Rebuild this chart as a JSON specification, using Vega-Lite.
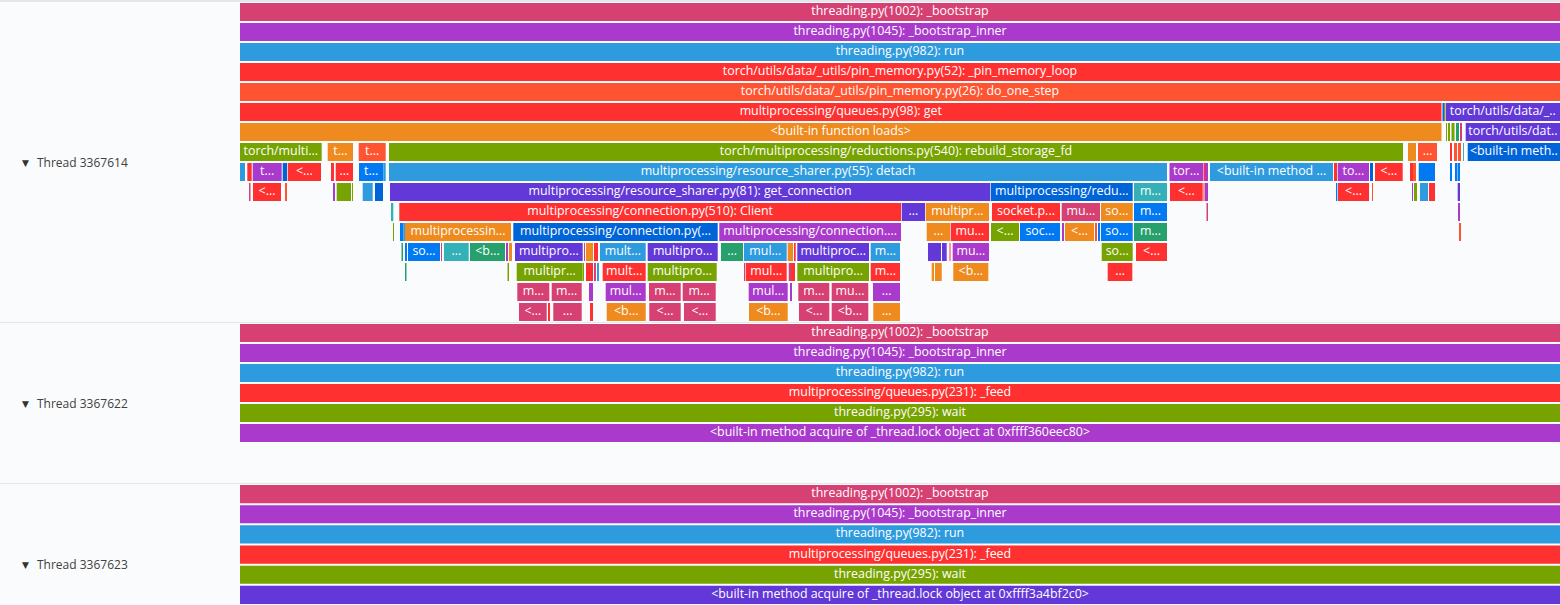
{
  "$schema": "https://vega.github.io/schema/vega-lite/v6.json",
  "background": "#e3e6ea",
  "padding": {"top": 2, "bottom": 0, "left": 0, "right": 0},
  "spacing": 1,
  "config": {
    "view": {"fill": "#f9fbfd", "stroke": null},
    "text": {"font": "Open Sans"}
  },
  "datasets": {
    "threads": [
      {"t": 1, "name": "Thread 3367614"},
      {"t": 2, "name": "Thread 3367622"},
      {"t": 3, "name": "Thread 3367623"}
    ],
    "frames": [
      {"t": 1, "d": 0, "s": 0, "e": 1320, "n": "threading.py(1002): _bootstrap", "g": 0},
      {"t": 1, "d": 1, "s": 0, "e": 1320, "n": "threading.py(1045): _bootstrap_inner", "g": 1},
      {"t": 1, "d": 2, "s": 0, "e": 1320, "n": "threading.py(982): run", "g": 2},
      {"t": 1, "d": 3, "s": 0, "e": 1320, "n": "torch/utils/data/_utils/pin_memory.py(52): _pin_memory_loop", "g": 3},
      {"t": 1, "d": 4, "s": 0, "e": 1320, "n": "torch/utils/data/_utils/pin_memory.py(26): do_one_step", "g": 4},

      {"t": 1, "d": 5, "s": 0, "e": 1201.5, "n": "multiprocessing/queues.py(98): get", "g": 3},
      {"t": 1, "d": 5, "s": 1202.5, "e": 1204, "n": "", "g": 8},
      {"t": 1, "d": 5, "s": 1204, "e": 1205, "n": "", "g": 6},
      {"t": 1, "d": 5, "s": 1205.6, "e": 1320, "n": "torch/utils/data/_..", "g": 7},

      {"t": 1, "d": 6, "s": 0, "e": 1201.5, "n": "<built-in function loads>", "g": 5},
      {"t": 1, "d": 6, "s": 1206, "e": 1207, "n": "", "g": 6},
      {"t": 1, "d": 6, "s": 1208, "e": 1210, "n": "", "g": 6},
      {"t": 1, "d": 6, "s": 1211.5, "e": 1214.5, "n": "", "g": 6},
      {"t": 1, "d": 6, "s": 1216, "e": 1219, "n": "", "g": 11},
      {"t": 1, "d": 6, "s": 1220, "e": 1222, "n": "", "g": 0},
      {"t": 1, "d": 6, "s": 1225.7, "e": 1320, "n": "torch/utils/dat..", "g": 7},

      {"t": 1, "d": 7, "s": 0, "e": 81.7, "n": "torch/multi...", "g": 6},
      {"t": 1, "d": 7, "s": 87.7, "e": 113, "n": "t...", "g": 5},
      {"t": 1, "d": 7, "s": 118.7, "e": 145.7, "n": "t...", "g": 4},
      {"t": 1, "d": 7, "s": 149, "e": 1163, "n": "torch/multiprocessing/reductions.py(540): rebuild_storage_fd", "g": 6},
      {"t": 1, "d": 7, "s": 1168, "e": 1176, "n": "", "g": 5},
      {"t": 1, "d": 7, "s": 1178, "e": 1197, "n": "...", "g": 4},
      {"t": 1, "d": 7, "s": 1210, "e": 1212, "n": "", "g": 3},
      {"t": 1, "d": 7, "s": 1214, "e": 1217, "n": "", "g": 4},
      {"t": 1, "d": 7, "s": 1218, "e": 1221, "n": "", "g": 4},
      {"t": 1, "d": 7, "s": 1223, "e": 1224, "n": "", "g": 10},
      {"t": 1, "d": 7, "s": 1227.7, "e": 1320, "n": "<built-in meth..", "g": 8},

      {"t": 1, "d": 8, "s": 0, "e": 5, "n": "", "g": 2},
      {"t": 1, "d": 8, "s": 7.3, "e": 11.7, "n": "", "g": 3},
      {"t": 1, "d": 8, "s": 12.7, "e": 41.7, "n": "t...", "g": 1},
      {"t": 1, "d": 8, "s": 42.7, "e": 47, "n": "", "g": 8},
      {"t": 1, "d": 8, "s": 47.7, "e": 81, "n": "<...", "g": 3},
      {"t": 1, "d": 8, "s": 91, "e": 94, "n": "", "g": 3},
      {"t": 1, "d": 8, "s": 95.7, "e": 113, "n": "...", "g": 3},
      {"t": 1, "d": 8, "s": 119, "e": 143.3, "n": "t...", "g": 9},
      {"t": 1, "d": 8, "s": 143.3, "e": 145.7, "n": "", "g": 2},
      {"t": 1, "d": 8, "s": 149, "e": 927, "n": "multiprocessing/resource_sharer.py(55): detach", "g": 2},
      {"t": 1, "d": 8, "s": 929.5, "e": 963, "n": "tor...", "g": 1},
      {"t": 1, "d": 8, "s": 963.5, "e": 965, "n": "", "g": 3},
      {"t": 1, "d": 8, "s": 965, "e": 968, "n": "", "g": 1},
      {"t": 1, "d": 8, "s": 970, "e": 1093, "n": "<built-in method ...", "g": 2},
      {"t": 1, "d": 8, "s": 1094, "e": 1097, "n": "", "g": 3},
      {"t": 1, "d": 8, "s": 1097.7, "e": 1129, "n": "to...", "g": 1},
      {"t": 1, "d": 8, "s": 1130, "e": 1133, "n": "", "g": 8},
      {"t": 1, "d": 8, "s": 1135, "e": 1162.7, "n": "<...", "g": 3},
      {"t": 1, "d": 8, "s": 1170, "e": 1173, "n": "", "g": 3},
      {"t": 1, "d": 8, "s": 1173, "e": 1176, "n": "", "g": 4},
      {"t": 1, "d": 8, "s": 1178.7, "e": 1195, "n": "", "g": 9},
      {"t": 1, "d": 8, "s": 1210, "e": 1212, "n": "", "g": 9},
      {"t": 1, "d": 8, "s": 1215, "e": 1217, "n": "", "g": 9},
      {"t": 1, "d": 8, "s": 1217.5, "e": 1220, "n": "", "g": 9},

      {"t": 1, "d": 9, "s": 9, "e": 10.5, "n": "", "g": 0},
      {"t": 1, "d": 9, "s": 13, "e": 41, "n": "<...", "g": 3},
      {"t": 1, "d": 9, "s": 45, "e": 47, "n": "", "g": 4},
      {"t": 1, "d": 9, "s": 93, "e": 95, "n": "", "g": 1},
      {"t": 1, "d": 9, "s": 96.7, "e": 111, "n": "", "g": 6},
      {"t": 1, "d": 9, "s": 112, "e": 113, "n": "", "g": 6},
      {"t": 1, "d": 9, "s": 122.7, "e": 132.7, "n": "", "g": 2},
      {"t": 1, "d": 9, "s": 135, "e": 143, "n": "", "g": 8},
      {"t": 1, "d": 9, "s": 150, "e": 750, "n": "multiprocessing/resource_sharer.py(81): get_connection", "g": 7},
      {"t": 1, "d": 9, "s": 750.7, "e": 892.7, "n": "multiprocessing/redu...", "g": 8},
      {"t": 1, "d": 9, "s": 894, "e": 927, "n": "m...", "g": 10},
      {"t": 1, "d": 9, "s": 930, "e": 962.7, "n": "<...", "g": 3},
      {"t": 1, "d": 9, "s": 963.5, "e": 964.5, "n": "", "g": 3},
      {"t": 1, "d": 9, "s": 965, "e": 968, "n": "", "g": 1},
      {"t": 1, "d": 9, "s": 1096, "e": 1097.3, "n": "", "g": 9},
      {"t": 1, "d": 9, "s": 1098, "e": 1129, "n": "<...", "g": 3},
      {"t": 1, "d": 9, "s": 1132, "e": 1133, "n": "", "g": 4},
      {"t": 1, "d": 9, "s": 1172, "e": 1173, "n": "", "g": 1},
      {"t": 1, "d": 9, "s": 1174, "e": 1177, "n": "", "g": 6},
      {"t": 1, "d": 9, "s": 1180, "e": 1188, "n": "", "g": 2},
      {"t": 1, "d": 9, "s": 1189, "e": 1195, "n": "", "g": 3},
      {"t": 1, "d": 9, "s": 1217.7, "e": 1220, "n": "", "g": 7},

      {"t": 1, "d": 10, "s": 151, "e": 153.3, "n": "", "g": 10},
      {"t": 1, "d": 10, "s": 159.3, "e": 661, "n": "multiprocessing/connection.py(510): Client", "g": 3},
      {"t": 1, "d": 10, "s": 661.7, "e": 685, "n": "...", "g": 7},
      {"t": 1, "d": 10, "s": 685.7, "e": 749, "n": "multipr...", "g": 5},
      {"t": 1, "d": 10, "s": 752, "e": 820, "n": "socket.p...", "g": 3},
      {"t": 1, "d": 10, "s": 821.7, "e": 860, "n": "mu...", "g": 0},
      {"t": 1, "d": 10, "s": 861, "e": 892.7, "n": "so...", "g": 5},
      {"t": 1, "d": 10, "s": 894, "e": 927, "n": "m...", "g": 9},
      {"t": 1, "d": 10, "s": 966.5, "e": 968, "n": "", "g": 0},
      {"t": 1, "d": 10, "s": 1218, "e": 1220, "n": "", "g": 1},

      {"t": 1, "d": 11, "s": 153, "e": 154, "n": "", "g": 6},
      {"t": 1, "d": 11, "s": 160, "e": 163.3, "n": "", "g": 9},
      {"t": 1, "d": 11, "s": 163.3, "e": 165, "n": "", "g": 2},
      {"t": 1, "d": 11, "s": 165, "e": 271, "n": "multiprocessin...", "g": 5},
      {"t": 1, "d": 11, "s": 273.3, "e": 477.7, "n": "multiprocessing/connection.py(...", "g": 8},
      {"t": 1, "d": 11, "s": 479.3, "e": 661, "n": "multiprocessing/connection....", "g": 1},
      {"t": 1, "d": 11, "s": 686.7, "e": 710, "n": "...", "g": 5},
      {"t": 1, "d": 11, "s": 710.7, "e": 749, "n": "mu...", "g": 3},
      {"t": 1, "d": 11, "s": 751, "e": 779, "n": "<...", "g": 6},
      {"t": 1, "d": 11, "s": 780, "e": 820, "n": "soc...", "g": 9},
      {"t": 1, "d": 11, "s": 822, "e": 824, "n": "", "g": 1},
      {"t": 1, "d": 11, "s": 825, "e": 854, "n": "<...", "g": 5},
      {"t": 1, "d": 11, "s": 855, "e": 857, "n": "", "g": 4},
      {"t": 1, "d": 11, "s": 858, "e": 860, "n": "", "g": 9},
      {"t": 1, "d": 11, "s": 861, "e": 892.7, "n": "so...", "g": 9},
      {"t": 1, "d": 11, "s": 894, "e": 927, "n": "m...", "g": 11},
      {"t": 1, "d": 11, "s": 1219, "e": 1221, "n": "", "g": 4},

      {"t": 1, "d": 12, "s": 161.5, "e": 163, "n": "", "g": 11},
      {"t": 1, "d": 12, "s": 165, "e": 167, "n": "", "g": 9},
      {"t": 1, "d": 12, "s": 168, "e": 200, "n": "so...", "g": 9},
      {"t": 1, "d": 12, "s": 201, "e": 202, "n": "", "g": 0},
      {"t": 1, "d": 12, "s": 204, "e": 228.7, "n": "...", "g": 10},
      {"t": 1, "d": 12, "s": 230, "e": 265, "n": "<b...", "g": 11},
      {"t": 1, "d": 12, "s": 266, "e": 268, "n": "", "g": 1},
      {"t": 1, "d": 12, "s": 269, "e": 272, "n": "", "g": 5},
      {"t": 1, "d": 12, "s": 275, "e": 342.7, "n": "multipro...", "g": 7},
      {"t": 1, "d": 12, "s": 344, "e": 345, "n": "", "g": 0},
      {"t": 1, "d": 12, "s": 346, "e": 353, "n": "", "g": 5},
      {"t": 1, "d": 12, "s": 354, "e": 358, "n": "", "g": 3},
      {"t": 1, "d": 12, "s": 360, "e": 405.7, "n": "mult...", "g": 2},
      {"t": 1, "d": 12, "s": 407.7, "e": 477.7, "n": "multipro...", "g": 7},
      {"t": 1, "d": 12, "s": 481, "e": 503, "n": "...", "g": 11},
      {"t": 1, "d": 12, "s": 504, "e": 546.7, "n": "mul...", "g": 2},
      {"t": 1, "d": 12, "s": 547.7, "e": 553, "n": "", "g": 5},
      {"t": 1, "d": 12, "s": 554, "e": 555.7, "n": "", "g": 3},
      {"t": 1, "d": 12, "s": 557.3, "e": 629, "n": "multiproc...", "g": 7},
      {"t": 1, "d": 12, "s": 630.7, "e": 660, "n": "m...", "g": 2},
      {"t": 1, "d": 12, "s": 688, "e": 701, "n": "", "g": 7},
      {"t": 1, "d": 12, "s": 702, "e": 706.7, "n": "", "g": 7},
      {"t": 1, "d": 12, "s": 709.5, "e": 710.5, "n": "", "g": 3},
      {"t": 1, "d": 12, "s": 712.7, "e": 749, "n": "mu...", "g": 1},
      {"t": 1, "d": 12, "s": 861.7, "e": 892.7, "n": "so...", "g": 6},
      {"t": 1, "d": 12, "s": 896, "e": 927, "n": "<...", "g": 3},

      {"t": 1, "d": 13, "s": 165, "e": 166.5, "n": "", "g": 11},
      {"t": 1, "d": 13, "s": 267.5, "e": 269, "n": "", "g": 6},
      {"t": 1, "d": 13, "s": 276.7, "e": 342.7, "n": "multipr...", "g": 6},
      {"t": 1, "d": 13, "s": 343, "e": 344, "n": "", "g": 6},
      {"t": 1, "d": 13, "s": 346, "e": 353, "n": "", "g": 3},
      {"t": 1, "d": 13, "s": 354, "e": 356, "n": "", "g": 0},
      {"t": 1, "d": 13, "s": 357, "e": 359, "n": "", "g": 2},
      {"t": 1, "d": 13, "s": 362.7, "e": 405.7, "n": "mult...", "g": 3},
      {"t": 1, "d": 13, "s": 407.7, "e": 476.7, "n": "multipro...", "g": 6},
      {"t": 1, "d": 13, "s": 504, "e": 505, "n": "", "g": 0},
      {"t": 1, "d": 13, "s": 505.7, "e": 546.7, "n": "mul...", "g": 3},
      {"t": 1, "d": 13, "s": 548.7, "e": 551, "n": "", "g": 0},
      {"t": 1, "d": 13, "s": 551, "e": 555, "n": "", "g": 3},
      {"t": 1, "d": 13, "s": 557.3, "e": 629, "n": "multipro...", "g": 6},
      {"t": 1, "d": 13, "s": 630.7, "e": 660, "n": "m...", "g": 3},
      {"t": 1, "d": 13, "s": 691.7, "e": 694, "n": "", "g": 5},
      {"t": 1, "d": 13, "s": 695, "e": 701.7, "n": "", "g": 5},
      {"t": 1, "d": 13, "s": 713.3, "e": 748.3, "n": "<b...", "g": 5},
      {"t": 1, "d": 13, "s": 867.7, "e": 892.3, "n": "...", "g": 3},

      {"t": 1, "d": 14, "s": 277.3, "e": 309.3, "n": "m...", "g": 0},
      {"t": 1, "d": 14, "s": 311.7, "e": 341.7, "n": "m...", "g": 0},
      {"t": 1, "d": 14, "s": 349, "e": 353, "n": "", "g": 1},
      {"t": 1, "d": 14, "s": 365.7, "e": 405.7, "n": "mul...", "g": 1},
      {"t": 1, "d": 14, "s": 409, "e": 440.7, "n": "m...", "g": 0},
      {"t": 1, "d": 14, "s": 442.7, "e": 475.7, "n": "m...", "g": 0},
      {"t": 1, "d": 14, "s": 508.7, "e": 547.7, "n": "mul...", "g": 1},
      {"t": 1, "d": 14, "s": 550, "e": 552, "n": "", "g": 1},
      {"t": 1, "d": 14, "s": 558.3, "e": 589.3, "n": "m...", "g": 0},
      {"t": 1, "d": 14, "s": 591.7, "e": 628.3, "n": "mu...", "g": 0},
      {"t": 1, "d": 14, "s": 633, "e": 660, "n": "...", "g": 1},

      {"t": 1, "d": 15, "s": 279, "e": 306.7, "n": "<...", "g": 0},
      {"t": 1, "d": 15, "s": 308, "e": 310, "n": "", "g": 3},
      {"t": 1, "d": 15, "s": 313.3, "e": 341.7, "n": "...", "g": 0},
      {"t": 1, "d": 15, "s": 350, "e": 353, "n": "", "g": 3},
      {"t": 1, "d": 15, "s": 366.7, "e": 405.7, "n": "<b...", "g": 5},
      {"t": 1, "d": 15, "s": 409.3, "e": 440.7, "n": "<...", "g": 0},
      {"t": 1, "d": 15, "s": 444, "e": 475.7, "n": "<...", "g": 0},
      {"t": 1, "d": 15, "s": 509, "e": 547.7, "n": "<b...", "g": 5},
      {"t": 1, "d": 15, "s": 559, "e": 589.3, "n": "<...", "g": 0},
      {"t": 1, "d": 15, "s": 591.7, "e": 628.3, "n": "<b...", "g": 0},
      {"t": 1, "d": 15, "s": 633.3, "e": 660, "n": "...", "g": 5},

      {"t": 2, "d": 0, "s": 0, "e": 1320, "n": "threading.py(1002): _bootstrap", "g": 0},
      {"t": 2, "d": 1, "s": 0, "e": 1320, "n": "threading.py(1045): _bootstrap_inner", "g": 1},
      {"t": 2, "d": 2, "s": 0, "e": 1320, "n": "threading.py(982): run", "g": 2},
      {"t": 2, "d": 3, "s": 0, "e": 1320, "n": "multiprocessing/queues.py(231): _feed", "g": 3},
      {"t": 2, "d": 4, "s": 0, "e": 1320, "n": "threading.py(295): wait", "g": 6},
      {"t": 2, "d": 5, "s": 0, "e": 1320, "n": "<built-in method acquire of _thread.lock object at 0xffff360eec80>", "g": 1},

      {"t": 3, "d": 0, "s": 0, "e": 1320, "n": "threading.py(1002): _bootstrap", "g": 0},
      {"t": 3, "d": 1, "s": 0, "e": 1320, "n": "threading.py(1045): _bootstrap_inner", "g": 1},
      {"t": 3, "d": 2, "s": 0, "e": 1320, "n": "threading.py(982): run", "g": 2},
      {"t": 3, "d": 3, "s": 0, "e": 1320, "n": "multiprocessing/queues.py(231): _feed", "g": 3},
      {"t": 3, "d": 4, "s": 0, "e": 1320, "n": "threading.py(295): wait", "g": 6},
      {"t": 3, "d": 5, "s": 0, "e": 1320, "n": "<built-in method acquire of _thread.lock object at 0xffff3a4bf2c0>", "g": 7}
    ]
  },
  "vconcat": [
    {
      "width": 1560, "height": 320,
      "layer": [
        {
          "data": {"name": "frames"},
          "transform": [{"filter": "datum.t == 1"}],
          "mark": {"type": "bar"},
          "encoding": {
            "x": {"field": "s", "type": "quantitative", "scale": {"domain": [-240, 1320], "nice": false, "zero": false}, "axis": null},
            "x2": {"field": "e"},
            "y": {"field": "d", "type": "ordinal", "scale": {"type": "band", "domain": [0,1,2,3,4,5,6,7,8,9,10,11,12,13,14,15], "paddingInner": 0.1, "paddingOuter": 0.05}, "axis": null},
            "color": {"field": "g", "type": "nominal", "legend": null, "scale": {"domain": [0,1,2,3,4,5,6,7,8,9,10,11], "range": ["#d64072","#a93acb","#2f9bdf","#ff3030","#ff5431","#ee8a1e","#77a300","#6238d9","#0064d9","#0079f2","#34b1b8","#26a06c"]}}
          }
        },
        {
          "data": {"name": "frames"},
          "transform": [{"filter": "datum.t == 1 && datum.n != ''"}, {"fold": ["s", "e"], "as": ["k", "v"]}],
          "mark": {"type": "text", "color": "#ffffff", "fontSize": 12.4, "align": "center", "baseline": "middle", "dy": -1},
          "encoding": {
            "x": {"aggregate": "mean", "field": "v", "type": "quantitative"},
            "y": {"field": "d", "type": "ordinal"},
            "text": {"field": "n"},
            "detail": {"field": "s", "type": "quantitative"}
          }
        },
        {
          "data": {"name": "threads"},
          "transform": [{"filter": "datum.t == 1"}],
          "mark": {"type": "text", "align": "left", "baseline": "middle", "fontSize": 12, "color": "#404040"},
          "encoding": {
            "x": {"datum": -203, "type": "quantitative"},
            "y": {"datum": 8, "type": "ordinal", "bandPosition": 0},
            "text": {"field": "name"}
          }
        },
        {
          "data": {"name": "threads"},
          "transform": [{"filter": "datum.t == 1"}],
          "mark": {"type": "text", "align": "center", "baseline": "middle", "fontSize": 9, "font": "DejaVu Sans", "color": "#333333"},
          "encoding": {
            "x": {"datum": -214.5, "type": "quantitative"},
            "y": {"datum": 8, "type": "ordinal", "bandPosition": 0},
            "text": {"value": "▼"}
          }
        },
        {
          "mark": {"type": "rule", "color": "#e3e6ea"},
          "encoding": {"x": {"datum": -0.5, "type": "quantitative"}}
        }
      ]
    },
    {
      "width": 1560, "height": 160,
      "layer": [
        {
          "data": {"name": "frames"},
          "transform": [{"filter": "datum.t == 2"}],
          "mark": {"type": "bar"},
          "encoding": {
            "x": {"field": "s", "type": "quantitative", "scale": {"domain": [-240, 1320], "nice": false, "zero": false}, "axis": null},
            "x2": {"field": "e"},
            "y": {"field": "d", "type": "ordinal", "scale": {"type": "band", "domain": [0,1,2,3,4,5,6,7], "paddingInner": 0.1, "paddingOuter": 0.05}, "axis": null},
            "color": {"field": "g", "type": "nominal", "legend": null, "scale": {"domain": [0,1,2,3,4,5,6,7,8,9,10,11], "range": ["#d64072","#a93acb","#2f9bdf","#ff3030","#ff5431","#ee8a1e","#77a300","#6238d9","#0064d9","#0079f2","#34b1b8","#26a06c"]}}
          }
        },
        {
          "data": {"name": "frames"},
          "transform": [{"filter": "datum.t == 2 && datum.n != ''"}, {"fold": ["s", "e"], "as": ["k", "v"]}],
          "mark": {"type": "text", "color": "#ffffff", "fontSize": 12.4, "align": "center", "baseline": "middle", "dy": -1},
          "encoding": {
            "x": {"aggregate": "mean", "field": "v", "type": "quantitative"},
            "y": {"field": "d", "type": "ordinal"},
            "text": {"field": "n"},
            "detail": {"field": "s", "type": "quantitative"}
          }
        },
        {
          "data": {"name": "threads"},
          "transform": [{"filter": "datum.t == 2"}],
          "mark": {"type": "text", "align": "left", "baseline": "middle", "fontSize": 12, "color": "#404040"},
          "encoding": {
            "x": {"datum": -203, "type": "quantitative"},
            "y": {"datum": 4, "type": "ordinal", "bandPosition": 0},
            "text": {"field": "name"}
          }
        },
        {
          "data": {"name": "threads"},
          "transform": [{"filter": "datum.t == 2"}],
          "mark": {"type": "text", "align": "center", "baseline": "middle", "fontSize": 9, "font": "DejaVu Sans", "color": "#333333"},
          "encoding": {
            "x": {"datum": -214.5, "type": "quantitative"},
            "y": {"datum": 4, "type": "ordinal", "bandPosition": 0},
            "text": {"value": "▼"}
          }
        },
        {
          "mark": {"type": "rule", "color": "#e3e6ea"},
          "encoding": {"x": {"datum": -0.5, "type": "quantitative"}}
        }
      ]
    },
    {
      "width": 1560, "height": 121,
      "layer": [
        {
          "data": {"name": "frames"},
          "transform": [{"filter": "datum.t == 3"}],
          "mark": {"type": "bar"},
          "encoding": {
            "x": {"field": "s", "type": "quantitative", "scale": {"domain": [-240, 1320], "nice": false, "zero": false}, "axis": null},
            "x2": {"field": "e"},
            "y": {"field": "d", "type": "ordinal", "scale": {"type": "band", "domain": [0,1,2,3,4,5], "paddingInner": 0.1, "paddingOuter": 0.05}, "axis": null},
            "color": {"field": "g", "type": "nominal", "legend": null, "scale": {"domain": [0,1,2,3,4,5,6,7,8,9,10,11], "range": ["#d64072","#a93acb","#2f9bdf","#ff3030","#ff5431","#ee8a1e","#77a300","#6238d9","#0064d9","#0079f2","#34b1b8","#26a06c"]}}
          }
        },
        {
          "data": {"name": "frames"},
          "transform": [{"filter": "datum.t == 3 && datum.n != ''"}, {"fold": ["s", "e"], "as": ["k", "v"]}],
          "mark": {"type": "text", "color": "#ffffff", "fontSize": 12.4, "align": "center", "baseline": "middle", "dy": -1},
          "encoding": {
            "x": {"aggregate": "mean", "field": "v", "type": "quantitative"},
            "y": {"field": "d", "type": "ordinal"},
            "text": {"field": "n"},
            "detail": {"field": "s", "type": "quantitative"}
          }
        },
        {
          "data": {"name": "threads"},
          "transform": [{"filter": "datum.t == 3"}],
          "mark": {"type": "text", "align": "left", "baseline": "middle", "fontSize": 12, "color": "#404040"},
          "encoding": {
            "x": {"datum": -203, "type": "quantitative"},
            "y": {"datum": 4, "type": "ordinal", "bandPosition": -0.05},
            "text": {"field": "name"}
          }
        },
        {
          "data": {"name": "threads"},
          "transform": [{"filter": "datum.t == 3"}],
          "mark": {"type": "text", "align": "center", "baseline": "middle", "fontSize": 9, "font": "DejaVu Sans", "color": "#333333"},
          "encoding": {
            "x": {"datum": -214.5, "type": "quantitative"},
            "y": {"datum": 4, "type": "ordinal", "bandPosition": -0.05},
            "text": {"value": "▼"}
          }
        },
        {
          "mark": {"type": "rule", "color": "#e3e6ea"},
          "encoding": {"x": {"datum": -0.5, "type": "quantitative"}}
        }
      ]
    }
  ]
}
